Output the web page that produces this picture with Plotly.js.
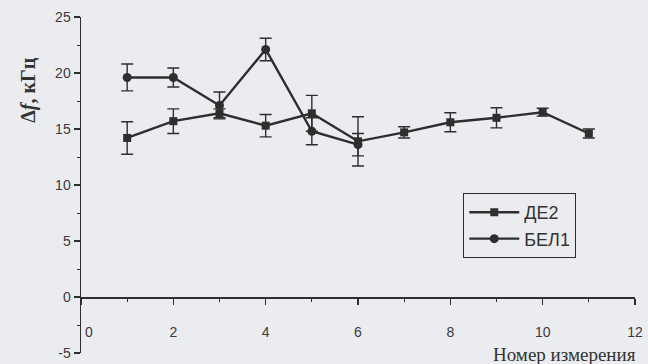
<!DOCTYPE html>
<html>
<head>
<meta charset="utf-8">
<script src="https://cdn.plot.ly/plotly-3.0.1.min.js"></script>
<style>
  html, body { margin: 0; padding: 0; background: #eaecf0; }
  #chart { width: 648px; height: 364px; }
</style>
</head>
<body>
<div id="chart"></div>
<script>
// Measurement numbers
const xDE2 = [1, 2, 3, 4, 5, 6, 7, 8, 9, 10, 11];
const yDE2 = [14.2, 15.7, 16.4, 15.3, 16.4, 13.9, 14.7, 15.6, 16.0, 16.5, 14.6];
const errDE2 = [1.45, 1.1, 0.4, 1.0, 1.6, 2.2, 0.5, 0.85, 0.9, 0.35, 0.4];

const xBEL1 = [1, 2, 3, 4, 5, 6];
const yBEL1 = [19.6, 19.6, 17.1, 22.1, 14.8, 13.6];
const errBEL1 = [1.2, 0.85, 1.2, 1.0, 1.2, 1.0];

const xTickVals = [0, 2, 4, 6, 8, 10, 12];
const xTickText = ['\u00A0\u00A0\u00A0\u00A00', '2', '4', '6', '8', '10', '12'];
const yTickVals = [-5, 0, 5, 10, 15, 20, 25];
const yTickText = ['-5', '0', '5', '10', '15', '20', '25'];

const seriesNames = ['ДЕ2', 'БЕЛ1'];
const yTitle = 'Δ<i>f</i>, кГц';
const xTitle = 'Номер измерения';

const ink = '#2e2e2e';

const traces = [
  {
    x: xDE2, y: yDE2, name: seriesNames[0], type: 'scatter', mode: 'lines+markers',
    line: {color: ink, width: 2.4},
    marker: {symbol: 'square', size: 8, color: ink},
    error_y: {type: 'data', array: errDE2, visible: true, color: ink, thickness: 1.4, width: 6}
  },
  {
    x: xBEL1, y: yBEL1, name: seriesNames[1], type: 'scatter', mode: 'lines+markers',
    line: {color: ink, width: 2.4},
    marker: {symbol: 'circle', size: 9, color: ink},
    error_y: {type: 'data', array: errBEL1, visible: true, color: ink, thickness: 1.4, width: 6}
  }
];

const layout = {
  width: 648, height: 364,
  paper_bgcolor: '#eaecf0', plot_bgcolor: '#eaecf0',
  margin: {l: 81, r: 13, t: 17, b: 11},
  showlegend: true,
  font: {family: 'Liberation Sans, Arial, sans-serif', color: '#3a3a3a', size: 14},
  xaxis: {
    range: [0, 12], anchor: 'free', position: 1/6,
    tickvals: xTickVals, ticktext: xTickText,
    ticks: 'outside', ticklen: 6, tickwidth: 1.2, tickcolor: ink,
    minor: {dtick: 1, ticks: 'outside', ticklen: 3, tickcolor: ink, tickwidth: 1},
    showline: true, linecolor: ink, linewidth: 1.5,
    showgrid: false, zeroline: false,
    ticklabelstandoff: 16,
    tickfont: {size: 14, color: '#3a3a3a'}
  },
  yaxis: {
    range: [-5, 25], tickvals: yTickVals, ticktext: yTickText,
    ticks: 'outside', ticklen: 6, tickwidth: 1.2, tickcolor: ink,
    minor: {dtick: 2.5, ticks: 'outside', ticklen: 3, tickcolor: ink, tickwidth: 1},
    showline: true, linecolor: ink, linewidth: 1.5,
    showgrid: false, zeroline: false,
    tickfont: {size: 14, color: '#3a3a3a'}
  },
  legend: {
    x: 0.69, y: 0.476, xanchor: 'left', yanchor: 'top',
    bgcolor: '#eaecf0', bordercolor: ink, borderwidth: 1,
    font: {size: 18, color: '#333'},
    itemwidth: 50,
    tracegroupgap: 0
  },
  annotations: [
    {
      text: yTitle, xref: 'paper', yref: 'paper', x: -0.094, y: 0.783,
      xanchor: 'center', yanchor: 'middle', textangle: -90, showarrow: false,
      font: {family: 'Liberation Serif, Times New Roman, serif', size: 20, color: '#333', weight: 'bold'}
    },
    {
      text: xTitle, xref: 'paper', yref: 'paper', x: 0.873, y: 0,
      xanchor: 'center', yanchor: 'top', yshift: 11, showarrow: false,
      font: {family: 'Liberation Serif, Times New Roman, serif', size: 19, color: '#333'}
    }
  ]
};

Plotly.newPlot('chart', traces, layout, {displayModeBar: false, staticPlot: true});
</script>
</body>
</html>
